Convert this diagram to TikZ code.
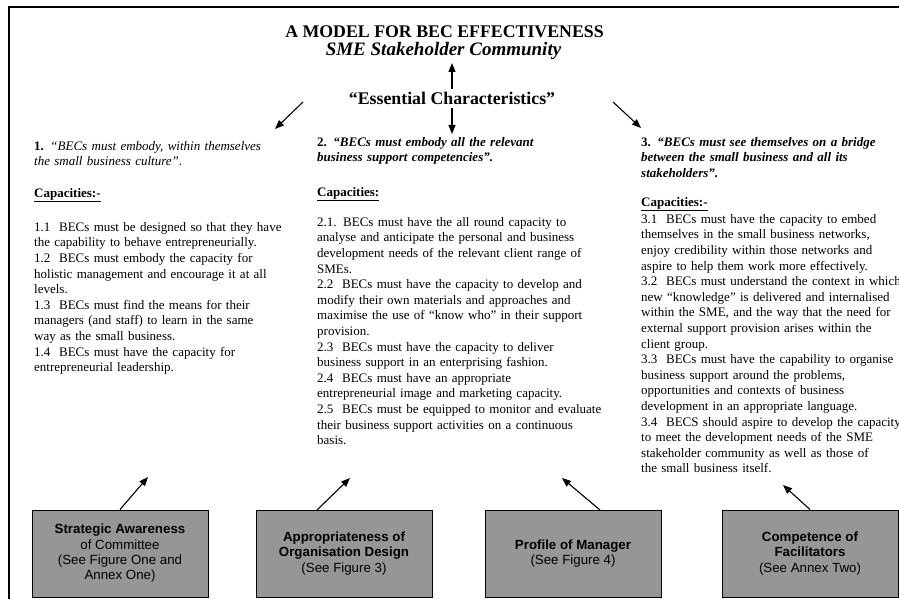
\documentclass[tikz,border=0pt]{standalone}
\usepackage{fontspec}
\setmainfont{Liberation Serif}
\newfontfamily\boxfont{Liberation Sans}
\usetikzlibrary{arrows.meta}
\definecolor{boxgray}{RGB}{150,150,150}
\begin{document}
\begin{tikzpicture}[x=1pt,y=-1pt,
  arr/.style={-{Triangle[length=9pt,width=7pt]}, line width=1.1pt},
  headfont/.style={font=\fontsize{17.8}{20}\selectfont\bfseries},
  col/.style={anchor=north west, inner sep=0pt, text width=400pt, align=left,
    font=\fontsize{13.0}{15.6}\selectfont},
  boxnode/.style={draw=black, line width=0.9pt, fill=boxgray, minimum width=176pt,
    minimum height=87pt, align=center, inner sep=0pt,
    font=\boxfont\fontsize{13.3}{15.3}\selectfont}]
\useasboundingbox (0,0) rectangle (899,599);
\fill[white] (0,0) rectangle (899,599);
% frame
\draw[line width=1.8pt] (9,605) -- (9,7) -- (905,7);
% headings
\node[headfont, anchor=base] (title) at (444.5,38) {A MODEL FOR BEC EFFECTIVENESS};
\node[anchor=base, font=\fontsize{19}{21}\selectfont\bfseries\itshape] (sub) at (443.5,56) {SME Stakeholder Community};
\node[headfont, anchor=base] (ess) at (452,105) {“Essential Characteristics”};
% column 1
\node[col] (h1) at (34,139) {\rule{0pt}{11pt}\textbf{1.} \textit{“BECs must embody, within themselves}\\\textit{the small business culture”}.};
\node[col] (c1) at (34,186) {\rule{0pt}{11pt}\underline{\textbf{Capacities:-}}};
\node[col] (t1) at (34,220) {\rule{0pt}{11pt}1.1~~BECs must be designed so that they have\\
the capability to behave entrepreneurially.\\
1.2~~BECs must embody the capacity for\\
holistic management and encourage it at all\\
levels.\\
1.3~~BECs must find the means for their\\
managers (and staff) to learn in the same\\
way as the small business.\\
1.4~~BECs must have the capacity for\\
entrepreneurial leadership.};
% column 2
\node[col] (h2) at (317,135) {\rule{0pt}{11pt}\textbf{2. \textit{“BECs must embody all the relevant}}\\\textbf{\textit{business support competencies”.}}};
\node[col] (c2) at (317,185) {\rule{0pt}{11pt}\underline{\textbf{Capacities:}}};
\node[col] (t2) at (317,215) {\rule{0pt}{11pt}2.1. BECs must have the all round capacity to\\
analyse and anticipate the personal and business\\
development needs of the relevant client range of\\
SMEs.\\
2.2~~BECs must have the capacity to develop and\\
modify their own materials and approaches and\\
maximise the use of “know who” in their support\\
provision.\\
2.3~~BECs must have the capacity to deliver\\
business support in an enterprising fashion.\\
2.4~~BECs must have an appropriate\\
entrepreneurial image and marketing capacity.\\
2.5~~BECs must be equipped to monitor and evaluate\\
their business support activities on a continuous\\
basis.};
% column 3
\node[col] (h3) at (641,135) {\rule{0pt}{11pt}\textbf{3. \textit{“BECs must see themselves on a bridge}}\\\textbf{\textit{between the small business and all its}}\\\textbf{\textit{stakeholders”.}}};
\node[col] (c3) at (641,195) {\rule{0pt}{11pt}\underline{\textbf{Capacities:-}}};
\node[col] (t3) at (641,212) {\rule{0pt}{11pt}3.1~~BECs must have the capacity to embed\\
themselves in the small business networks,\\
enjoy credibility within those networks and\\
aspire to help them work more effectively.\\
3.2~~BECs must understand the context in which\\
new “knowledge” is delivered and internalised\\
within the SME, and the way that the need for\\
external support provision arises within the\\
client group.\\
3.3~~BECs must have the capability to organise\\
business support around the problems,\\
opportunities and contexts of business\\
development in an appropriate language.\\
3.4~~BECS should aspire to develop the capacity\\
to meet the development needs of the SME\\
stakeholder community as well as those of\\
the small business itself.};
% boxes
\node[boxnode] (b1) at (120,553.5) {\textbf{Strategic Awareness}\\of Committee\\(See Figure One and\\Annex One)};
\node[boxnode] (b2) at (344,553.5) {\textbf{Appropriateness of}\\\textbf{Organisation Design}\\(See Figure 3)};
\node[boxnode] (b3) at (573,553.5) {\textbf{Profile of Manager}\\(See Figure 4)};
\node[boxnode] (b4) at (810,553.5) {\textbf{Competence of}\\\textbf{Facilitators}\\(See Annex Two)};
% connector ends
\coordinate (upT) at (452,63);
\coordinate (dnS) at (452,108);
\coordinate (dnT) at (452,134);
\coordinate (lS) at (303,102);
\coordinate (lT) at (275,129);
\coordinate (rS) at (613,102);
\coordinate (rT) at (641,128);
\coordinate (s2) at (317,510);
\coordinate (s3) at (600,510);
\coordinate (a1) at (148,477);
\coordinate (a2) at (350,478);
\coordinate (a3) at (562,478);
\coordinate (a4) at (783,485);
% arrows
\draw[arr] (ess.north -| upT) -- (upT);
\draw[arr] (dnS) -- (dnT);
\draw[arr] (lS) -- (lT);
\draw[arr] (rS) -- (rT);
\draw[arr] (b1.north) -- (a1);
\draw[arr] (s2) -- (a2);
\draw[arr] (s3) -- (a3);
\draw[arr] (b4.north) -- (a4);
\end{tikzpicture}
\end{document}
